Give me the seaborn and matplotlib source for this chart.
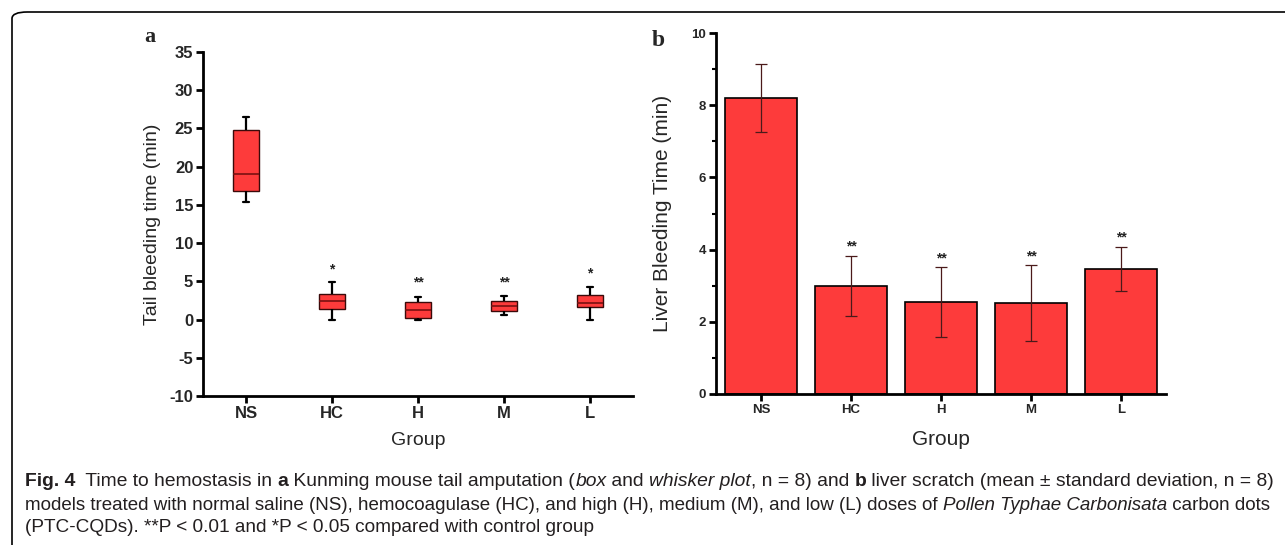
import numpy as np
import pandas as pd
import matplotlib
matplotlib.use("Agg")
import matplotlib.pyplot as plt
import seaborn as sns
from matplotlib.patches import FancyBboxPatch
from matplotlib.ticker import MultipleLocator

# ---------------- data ----------------
groups = ["NS", "HC", "H", "M", "L"]

# panel a: box & whisker summaries (min, Q1, median, Q3, max), n = 8
tail_min = [15.4, 0.0, 0.0, 0.55, 0.0]
tail_q1 = [16.8, 1.4, 0.15, 1.15, 1.6]
tail_med = [19.05, 2.4, 1.3, 1.8, 2.2]
tail_q3 = [24.8, 3.3, 2.3, 2.4, 3.2]
tail_max = [26.5, 4.95, 3.0, 3.1, 4.25]
tail_sig = ["", "*", "**", "**", "*"]
tail_sig_y = [0, 6.5, 4.8, 4.8, 6.0]

# panel b: mean ± SD
liver_mean = [8.2, 3.0, 2.55, 2.52, 3.47]
liver_sd = [0.95, 0.83, 0.97, 1.05, 0.61]
liver_sig = ["", "**", "**", "**", "**"]

caption_lines = [
    [("Fig. 4", "bold"), ("  Time to hemostasis in ", "normal"), ("a", "bold"),
     (" Kunming mouse tail amputation (", "normal"), ("box", "italic"), (" and ", "normal"),
     ("whisker plot", "italic"), (", n = 8) and ", "normal"), ("b", "bold"),
     (" liver scratch (mean \u00b1 standard deviation, n = 8)", "normal")],
    [("models treated with normal saline (NS), hemocoagulase (HC), and high (H), medium (M), and low (L) doses of ", "normal"),
     ("Pollen Typhae Carbonisata", "italic"), (" carbon dots", "normal")],
    [("(PTC-CQDs). **P < 0.01 and *P < 0.05 compared with control group", "normal")],
]

# ---------------- style ----------------
sns.set_theme(style="white")
plt.rcParams["font.family"] = ["Liberation Sans", "DejaVu Sans"]
plt.rcParams["axes.unicode_minus"] = False
RED = "#fd3b3b"

fig = plt.figure(figsize=(12.85, 5.45), dpi=100)
W, H = 1285, 545

def px_axes(l, t, r, b):
    return fig.add_axes([l / W, 1 - b / H, (r - l) / W, (b - t) / H])

# ---------------- panel a ----------------
axa = px_axes(203, 52, 633, 396)
rows = []
for g, lo, q1, md, q3, hi in zip(groups, tail_min, tail_q1, tail_med, tail_q3, tail_max):
    for v in (lo, q1, q1, md, md, q3, q3, hi):
        rows.append({"Group": g, "Time": v})
df_a = pd.DataFrame(rows)
sns.boxplot(data=df_a, x="Group", y="Time", order=groups, whis=(0, 100), width=0.3,
            color=RED, saturation=1, linecolor="#3a0a0a", linewidth=1.0,
            capwidths=0.07,
            whiskerprops=dict(color="black", linewidth=1.6),
            capprops=dict(color="black", linewidth=1.6),
            medianprops=dict(color="#7a1010", linewidth=1.2),
            ax=axa)
axa.set_ylim(-10, 35)
axa.set_xlim(-0.5, 4.5)
axa.yaxis.set_major_locator(MultipleLocator(5))
for i, s in enumerate(tail_sig):
    if s:
        axa.text(i, tail_sig_y[i], s, ha="center", va="center", fontsize=10,
                 fontweight="bold", color="#222222")
axa.set_xlabel("Group", fontsize=14, labelpad=8)
axa.set_ylabel("Tail bleeding time (min)", fontsize=14)
axa.yaxis.set_label_coords(-0.097, 0.5)
for sp in ("top", "right"):
    axa.spines[sp].set_visible(False)
for sp in ("left", "bottom"):
    axa.spines[sp].set_linewidth(2.0)
    axa.spines[sp].set_color("black")
axa.tick_params(axis="both", which="major", direction="out", length=5, width=2,
                color="black", labelsize=12, pad=2, left=True, bottom=True)
for lab in axa.get_xticklabels() + axa.get_yticklabels():
    lab.set_fontweight("bold")

# ---------------- panel b ----------------
axb = px_axes(716, 33, 1166, 394)
df_b = pd.DataFrame({"Group": groups, "Mean": liver_mean})
sns.barplot(data=df_b, x="Group", y="Mean", order=groups, color=RED, saturation=1,
            width=0.8, edgecolor="black", linewidth=1.2, errorbar=None, ax=axb)
centers = [p.get_x() + p.get_width() / 2 for p in axb.patches]
axb.errorbar(centers, liver_mean, yerr=liver_sd, fmt="none", ecolor="#4a1a1a",
             elinewidth=0.9, capsize=4, capthick=0.9)
for c, m, sd, s in zip(centers, liver_mean, liver_sd, liver_sig):
    if s:
        axb.text(c, m + sd + 0.05, s, ha="center", va="bottom", fontsize=10,
                 fontweight="bold", color="#222222")
axb.set_ylim(0, 10)
axb.set_xlim(-0.5, 4.5)
axb.yaxis.set_major_locator(MultipleLocator(2))
axb.yaxis.set_minor_locator(MultipleLocator(1))
axb.set_xlabel("Group", fontsize=15, labelpad=10)
axb.set_ylabel("Liver Bleeding Time (min)", fontsize=15)
axb.yaxis.set_label_coords(-0.098, 0.5)
for sp in ("top", "right"):
    axb.spines[sp].set_visible(False)
for sp in ("left", "bottom"):
    axb.spines[sp].set_linewidth(2.0)
    axb.spines[sp].set_color("black")
axb.tick_params(axis="both", which="major", direction="out", length=5, width=2,
                color="black", labelsize=9.5, pad=2, left=True, bottom=True)
axb.tick_params(axis="y", which="minor", direction="out", length=3, width=1.5,
                color="black", left=True)
for lab in axb.get_xticklabels() + axb.get_yticklabels():
    lab.set_fontweight("bold")

# panel letters
fig.text(150 / W, 1 - 37 / H, "a", fontsize=16, fontweight="bold",
         family=["Liberation Serif", "DejaVu Serif"], ha="center", va="center")
fig.text(658 / W, 1 - 40 / H, "b", fontsize=17, fontweight="bold",
         family=["Liberation Serif", "DejaVu Serif"], ha="center", va="center")

# ---------------- caption box ----------------
box = FancyBboxPatch((12 / W, -0.2), 1.2, 1 - 12 / H + 0.2,
                     boxstyle="round,pad=0,rounding_size=0.012",
                     transform=fig.transFigure, fill=False, edgecolor="black",
                     linewidth=1.2)
fig.patches.append(box)

renderer = fig.canvas.get_renderer()
cap_font = ["Liberation Sans", "DejaVu Sans"]
line_y = [482, 505, 528]
line_end = [1278, 1278, None]
x0 = 25.0

def draw_line(segs, ly, fs):
    objs = []
    x = x0
    for txt, sty in segs:
        kw = dict(fontsize=fs, family=cap_font, color="#231f20", va="center", ha="left")
        if sty == "bold":
            kw["fontweight"] = "bold"
        if sty == "italic":
            kw["fontstyle"] = "italic"
        t = fig.text(x / W, 1 - ly / H, txt, **kw)
        objs.append(t)
        x += t.get_window_extent(renderer).width
    return objs, x

sizes = []
for segs, ly, xe in zip(caption_lines, line_y, line_end):
    if xe is not None:
        objs, xend = draw_line(segs, ly, 12)
        fs = 12 * (xe - x0) / (xend - x0)
        for t in objs:
            t.remove()
        sizes.append(fs)
    else:
        fs = sum(sizes) / len(sizes)
    draw_line(segs, ly, fs)

fig.savefig("out.png", dpi=100)
